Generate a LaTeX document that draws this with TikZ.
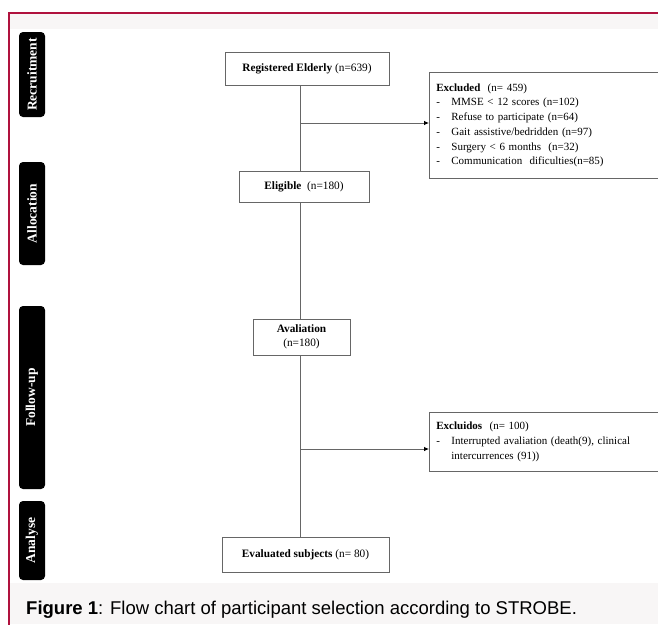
\documentclass[tikz,border=0pt]{standalone}
\usepackage{fontspec}
\setmainfont{Liberation Serif}
\newfontfamily\capfont{Liberation Sans}
\usetikzlibrary{arrows.meta}
\definecolor{framered}{HTML}{B0123E}
\definecolor{band}{HTML}{F8F6F6}
\definecolor{boxline}{HTML}{666666}
\begin{document}
\begin{tikzpicture}[x=1pt,y=-1pt,
  flowbox/.style={draw=boxline, line width=0.8pt, fill=white, align=center,
    font=\fontsize{11.3}{13.5}\selectfont, inner sep=0pt},
  listbox/.style={draw=boxline, line width=0.8pt, fill=white, align=left,
    anchor=north west, font=\fontsize{11}{14.7}\selectfont, inner xsep=4.5pt, inner ysep=0pt},
  phase/.style={fill=black, rounded corners=4pt, text=white, rotate=90,
    minimum height=26pt, inner sep=0pt, font=\bfseries\fontsize{13.5}{13.5}\selectfont},
  link/.style={draw=boxline, line width=0.8pt},
  arr/.style={link, -{Latex[length=5pt,width=4.5pt,color=black]}}]
\useasboundingbox (0,0) rectangle (658,624);
\fill[white] (0,0) rectangle (658,624);
% bands
\fill[band] (9,14) rectangle (658,29);
\fill[band] (9,583) rectangle (658,624);
% frame
\draw[framered, line width=1.5pt] (9,625) -- (9,13) -- (659,13);
% phase labels
\node[phase, minimum width=85pt] (rec) at (32,74.5) {Recruitment};
\node[phase, minimum width=103pt] (alloc) at (32,213.5) {Allocation};
\node[phase, minimum width=183pt] (fol) at (32,397.5) {Follow-up};
\node[phase, minimum width=79pt] (ana) at (32,540.5) {Analyse};
% flow boxes
\node[flowbox, minimum width=164pt, minimum height=33pt] (reg) at (307,68.5)
  {\textbf{Registered Elderly} (n=639)};
\node[flowbox, minimum width=130pt, minimum height=31pt] (elig) at (304,186.5)
  {\textbf{Eligible}\ \ (n=180)};
\node[flowbox, minimum width=97pt, minimum height=36pt] (aval) at (301.5,337)
  {\textbf{Avaliation}\\(n=180)};
\node[flowbox, minimum width=167pt, minimum height=35pt] (eval) at (305.5,554.5)
  {\textbf{Evaluated subjects} (n= 80)};
\node[listbox, minimum width=240pt, minimum height=106pt, text width=226pt] (excl) at (429,72)
  {\textbf{Excluded}\ \ (n= 459)\\
   \makebox[15pt][l]{-}MMSE < 12 scores (n=102)\\
   \makebox[15pt][l]{-}Refuse to participate (n=64)\\
   \makebox[15pt][l]{-}Gait assistive/bedridden (n=97)\\
   \makebox[15pt][l]{-}Surgery < 6 months\ \ (n=32)\\
   \makebox[15pt][l]{-}Communication\ \ dificulties(n=85)};
\node[listbox, minimum width=240pt, minimum height=59pt, text width=226pt] (exc2) at (429,412)
  {\textbf{Excluidos}\ \ (n= 100)\\
   \makebox[15pt][l]{-}Interrupted avaliation (death(9), clinical\\
   \hspace*{15pt}intercurrences (91))};
% spine
\coordinate (j1) at (300.7,123);
\coordinate (j2) at (300.7,449);
\draw[link] (reg.south -| j1) -- (elig.north -| j1);
\draw[link] (elig.south -| j1) -- (aval.north -| j1);
\draw[link] (aval.south -| j1) -- (eval.north -| j1);
\draw[arr] (j1) -- (j1 -| excl.west);
\draw[arr] (j2) -- (j2 -| exc2.west);
% caption
\node[anchor=base west, inner sep=0pt, font=\capfont\fontsize{18.5}{18.5}\selectfont] (cap) at (26,614)
  {\textbf{Figure 1}: Flow chart of participant selection according to STROBE.};
\end{tikzpicture}
\end{document}
